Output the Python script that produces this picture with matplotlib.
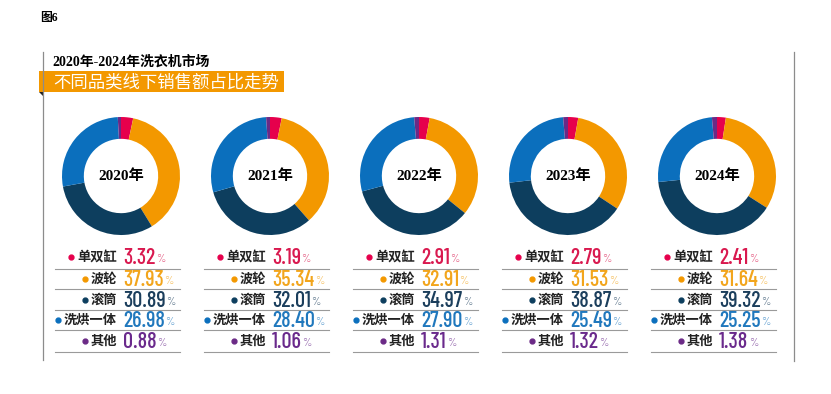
import matplotlib.pyplot as plt
from matplotlib import font_manager

plt.rcParams['font.family'] = ['Noto Sans CJK SC', 'DejaVu Sans']

years = ['2020年', '2021年', '2022年', '2023年', '2024年']
categories = ['单双缸', '波轮', '滚筒', '洗烘一体', '其他']
share_2020 = [3.32, 37.93, 30.89, 26.98, 0.88]
share_2021 = [3.19, 35.34, 32.01, 28.40, 1.06]
share_2022 = [2.91, 32.91, 34.97, 27.90, 1.31]
share_2023 = [2.79, 31.53, 38.87, 25.49, 1.32]
share_2024 = [2.41, 31.64, 39.32, 25.25, 1.38]
shares = [share_2020, share_2021, share_2022, share_2023, share_2024]

ring_colors = ['#e6004c', '#f39800', '#0d3e5e', '#0b6fbd', '#6b2a86']
value_colors = ['#d9194f', '#f2a51c', '#1b3e5c', '#2078bd', '#6a2a8c']

names = {f.name for f in font_manager.fontManager.ttflist}
narrow = [c for c in ['Barlow Condensed', 'Roboto Condensed', 'Saira Condensed',
                      'Oswald', 'Liberation Sans Narrow', 'DejaVu Sans']
          if c in names][:1]
serif = ['Liberation Serif', 'Noto Sans CJK SC']

W, H = 831, 394
fig = plt.figure(figsize=(W / 100, H / 100), dpi=100)
ax = fig.add_axes([0, 0, 1, 1])
ax.set_xlim(0, W)
ax.set_ylim(H, 0)
ax.axis('off')

ax.text(40, 18, '图6', fontsize=8.5, fontweight='bold', family=serif, va='center')

# frame lines
ax.plot([43, 43], [52, 360], color='#8c8c8c', lw=0.9)
ax.plot([794, 794], [52, 361], color='#8c8c8c', lw=0.9)

ax.text(52, 62, '2020年-2024年洗衣机市场', fontsize=10, fontweight='bold',
        family=serif, va='center')
ax.add_patch(plt.Rectangle((39, 71), 245, 21, color='#f39800', lw=0))
ax.add_patch(plt.Polygon([[39, 92], [44, 92], [44, 97]], color='#222222', lw=0))
ax.text(53, 82, '不同品类线下销售额占比走势', fontsize=12.5, color='white',
        va='center', fontweight='medium')

centers = [121, 270, 419, 568, 717]
cy = 176
r = 59
row_y = [257, 279, 300, 320, 341]
line_y = [269, 289, 310, 330, 352]

fig.canvas.draw()
renderer = fig.canvas.get_renderer()
inv = ax.transData.inverted()

for i, cx in enumerate(centers):
    pax = fig.add_axes([(cx - r) / W, 1 - (cy + r) / H, 2 * r / W, 2 * r / H])
    pax.pie(shares[i], colors=ring_colors, startangle=90, counterclock=False,
            radius=1, wedgeprops=dict(width=0.37, linewidth=0))
    pax.set_xlim(-1, 1)
    pax.set_ylim(-1, 1)
    pax.set_aspect('equal')
    pax.axis('off')
    pax.text(0, 0, years[i], ha='center', va='center', fontsize=11,
             fontweight='bold', family=serif)

    for j, cat in enumerate(categories):
        y = row_y[j]
        lab = ax.text(cx - 4, y, cat, ha='right', va='center', fontsize=9.5,
                      fontweight='bold', color='#222222')
        bb = lab.get_window_extent(renderer)
        x0 = inv.transform((bb.x0, bb.y0))[0]
        ax.plot(x0 - 6, y, 'o', color=ring_colors[j], ms=3.5)
        val = ax.text(cx + 2, y + 1, f'{shares[i][j]:.2f}', ha='left', va='center',
                      fontsize=16, color=value_colors[j], family=narrow,
                      fontweight='medium')
        vb = val.get_window_extent(renderer)
        x1 = inv.transform((vb.x1, vb.y0))[0]
        ax.text(x1 + 0.5, y + 2, '%', ha='left', va='center', fontsize=8.5,
                color=value_colors[j], alpha=0.65, family=narrow)
        ax.plot([cx - 66, cx + 59], [line_y[j], line_y[j]], color='#9a9a9a', lw=0.8)

fig.savefig('out.png', dpi=100)
